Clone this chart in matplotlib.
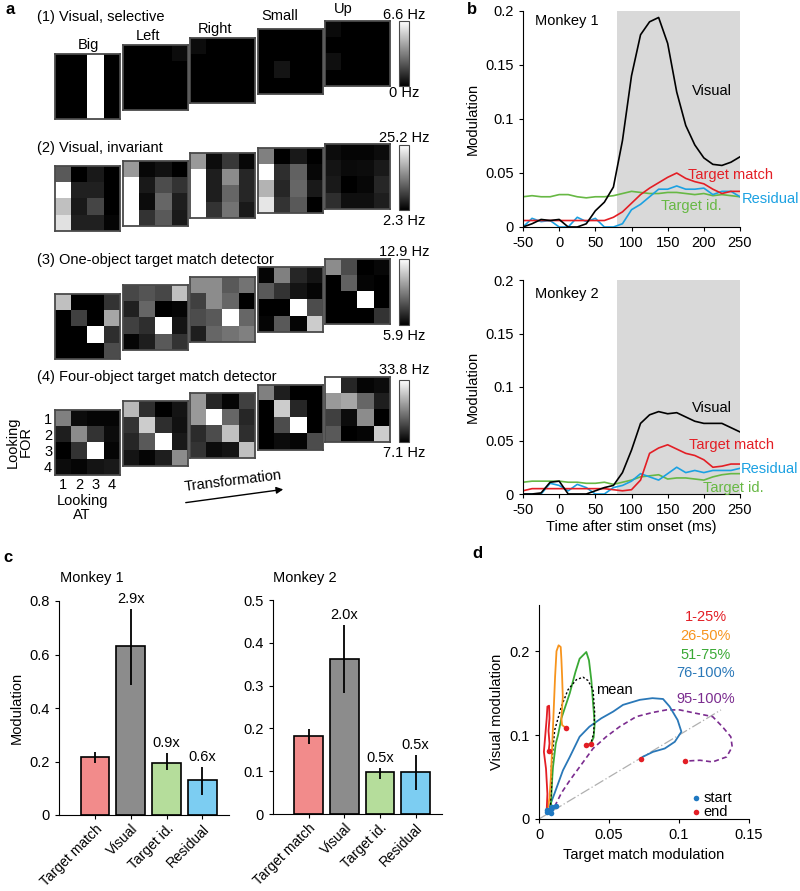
import numpy as np
import matplotlib
matplotlib.use("Agg")
import matplotlib.pyplot as plt
from matplotlib.colors import Normalize
from matplotlib.cm import ScalarMappable

plt.rcParams['font.family'] = ['Liberation Sans', 'DejaVu Sans']
plt.rcParams['font.size'] = 10
plt.rcParams['axes.unicode_minus'] = False

# --- Panel a : matrices (normalised grey level, rows = looking FOR, cols = looking AT) ---
titres_lignes = ["(1) Visual, selective", "(2) Visual, invariant",
                 "(3) One-object target match detector", "(4) Four-object target match detector"]
transfos = ["Big", "Left", "Right", "Small", "Up"]
echelles_hz = [("6.6 Hz", "0 Hz"), ("25.2 Hz", "2.3 Hz"), ("12.9 Hz", "5.9 Hz"), ("33.8 Hz", "7.1 Hz")]

mat_selectif = [
    [[0, 0, 1, 0], [0, 0, 1, 0], [0, 0, 1, 0], [0, 0, 1, 0]],
    [[0, 0, 0, 0.05], [0, 0, 0, 0], [0, 0, 0, 0], [0, 0, 0, 0]],
    [[0.05, 0, 0, 0], [0, 0, 0, 0], [0, 0, 0, 0], [0, 0, 0, 0]],
    [[0, 0, 0, 0], [0, 0, 0, 0], [0, 0.08, 0, 0], [0, 0, 0, 0]],
    [[0.04, 0, 0, 0], [0, 0, 0, 0], [0.06, 0, 0, 0], [0, 0, 0, 0]],
]
mat_invariant = [
    [[0.35, 0.0, 0.1, 0.0], [1.0, 0.13, 0.13, 0.0], [0.75, 0.1, 0.27, 0.0], [0.88, 0.13, 0.13, 0.02]],
    [[0.6, 0.03, 0.07, 0.0], [1.0, 0.1, 0.3, 0.2], [1.0, 0.05, 0.4, 0.12], [1.0, 0.2, 0.35, 0.1]],
    [[0.6, 0.05, 0.22, 0.03], [1.0, 0.12, 0.55, 0.15], [1.0, 0.12, 0.4, 0.15], [1.0, 0.2, 0.45, 0.1]],
    [[0.5, 0.0, 0.1, 0.0], [1.0, 0.18, 0.38, 0.03], [0.7, 0.15, 0.4, 0.1], [0.9, 0.2, 0.35, 0.0]],
    [[0.05, 0.02, 0.02, 0.05], [0.08, 0.04, 0.05, 0.1], [0.1, 0.0, 0.03, 0.15], [0.18, 0.06, 0.06, 0.12]],
]
mat_un_objet = [
    [[0.75, 0, 0, 0.2], [0, 0.25, 0, 0.65], [0, 0, 1, 0.18], [0, 0, 0, 0.3]],
    [[0.28, 0.33, 0.28, 0.75], [0.13, 0.4, 0.0, 0.02], [0.25, 0.18, 1.0, 0.08], [0.02, 0.12, 0.35, 0.2]],
    [[0.55, 0.55, 0.35, 0.45], [0.25, 0.55, 0.4, 0.0], [0.3, 0.35, 1.0, 0.4], [0.12, 0.4, 0.45, 0.5]],
    [[0.02, 0.5, 0.15, 0.08], [0.35, 0.2, 0.08, 0.02], [0.0, 0.0, 1.0, 0.3], [0.02, 0.35, 0.02, 0.8]],
    [[0.55, 0.3, 0.0, 0.03], [0.0, 0.38, 0.02, 0.0], [0.0, 0.0, 1.0, 0.0], [0.0, 0.0, 0.0, 0.2]],
]
mat_quatre_objets = [
    [[0.5, 0.05, 0.02, 0.02], [0.12, 0.55, 0.2, 0.05], [0.0, 0.2, 1.0, 0.02], [0.05, 0.02, 0.08, 0.1]],
    [[0.72, 0.18, 0.0, 0.08], [0.2, 0.8, 0.18, 0.07], [0.15, 0.35, 1.0, 0.1], [0.08, 0.02, 0.12, 0.55]],
    [[0.6, 0.15, 0.02, 0.25], [0.6, 1.0, 0.4, 0.15], [0.17, 0.3, 0.75, 0.18], [0.2, 0.05, 0.08, 0.75]],
    [[0.5, 0.12, 0.0, 0.0], [0.0, 0.8, 0.15, 0.0], [0.0, 0.3, 1.0, 0.0], [0.0, 0.05, 0.02, 0.3]],
    [[1.0, 0.15, 0.02, 0.05], [0.6, 0.65, 0.4, 0.12], [0.25, 0.05, 0.55, 0.0], [0.35, 0.0, 0.02, 0.8]],
]
toutes_matrices = [mat_selectif, mat_invariant, mat_un_objet, mat_quatre_objets]

# --- Panel b : modulation time courses ---
temps = [-50, -37.5, -25, -12.5, 0, 12.5, 25, 37.5, 50, 62.5, 75, 87.5, 100, 112.5, 125,
         137.5, 150, 162.5, 175, 187.5, 200, 212.5, 225, 237.5, 250]
m1_visual = [0, 0.003, 0.007, 0.006, 0.007, 0.0, 0.0, 0.003, 0.015, 0.023, 0.037, 0.08, 0.14,
             0.178, 0.19, 0.194, 0.17, 0.125, 0.094, 0.076, 0.064, 0.058, 0.057, 0.06, 0.065]
m1_target = [0.006, 0.006, 0.006, 0.006, 0.006, 0.006, 0.006, 0.006, 0.006, 0.006, 0.009, 0.014,
             0.022, 0.03, 0.036, 0.041, 0.046, 0.05, 0.045, 0.042, 0.04, 0.035, 0.031, 0.033, 0.033]
m1_resid = [0, 0.008, 0.005, 0.006, 0.0, 0.0, 0.009, 0.005, 0.008, 0.0, 0.0, 0.003, 0.016,
            0.021, 0.028, 0.035, 0.035, 0.038, 0.035, 0.035, 0.036, 0.03, 0.033, 0.033, 0.028]
m1_id = [0.028, 0.029, 0.028, 0.028, 0.03, 0.03, 0.028, 0.027, 0.028, 0.028, 0.029, 0.031, 0.033,
         0.032, 0.031, 0.031, 0.032, 0.032, 0.031, 0.03, 0.031, 0.029, 0.03, 0.029, 0.028]
m2_visual = [0, 0, 0.001, 0.011, 0.012, 0.0, 0.0, 0.0, 0.003, 0.006, 0.008, 0.02, 0.041, 0.066,
             0.074, 0.077, 0.075, 0.076, 0.072, 0.068, 0.066, 0.066, 0.066, 0.062, 0.058]
m2_target = [0.003, 0.005, 0.005, 0.005, 0.005, 0.005, 0.005, 0.005, 0.005, 0.005, 0.004, 0.003,
             0.004, 0.013, 0.038, 0.043, 0.046, 0.042, 0.038, 0.036, 0.032, 0.025, 0.026, 0.028, 0.028]
m2_resid = [0, 0, 0.0, 0.01, 0.008, 0.003, 0.009, 0.006, 0.0, 0.0, 0.006, 0.008, 0.012, 0.019,
            0.016, 0.013, 0.019, 0.025, 0.02, 0.022, 0.02, 0.022, 0.022, 0.022, 0.024]
m2_id = [0.011, 0.012, 0.012, 0.012, 0.012, 0.011, 0.011, 0.01, 0.01, 0.011, 0.009, 0.011, 0.013,
         0.016, 0.017, 0.018, 0.014, 0.015, 0.015, 0.014, 0.013, 0.016, 0.018, 0.019, 0.019]

# --- Panel c : bars ---
categories = ["Target match", "Visual", "Target id.", "Residual"]
m1_barres = [0.215, 0.631, 0.195, 0.131]
m1_err_bas = [0.195, 0.485, 0.168, 0.075]
m1_err_haut = [0.234, 0.771, 0.233, 0.18]
m1_ratios = ["", "2.9x", "0.9x", "0.6x"]
m2_barres = [0.183, 0.362, 0.097, 0.098]
m2_err_bas = [0.164, 0.282, 0.082, 0.055]
m2_err_haut = [0.199, 0.442, 0.107, 0.138]
m2_ratios = ["", "2.0x", "0.5x", "0.5x"]

# --- Panel d : trajectories (target match, visual) ---
q1_x = [0.0055, 0.006, 0.005, 0.0035, 0.0045, 0.0055, 0.006, 0.0072, 0.0075, 0.0068, 0.0075, 0.0069]
q1_y = [0.011, 0.03, 0.06, 0.08, 0.1, 0.12, 0.134, 0.135, 0.12, 0.105, 0.09, 0.081]
q2_x = [0.006, 0.0075, 0.0085, 0.0095, 0.0105, 0.0115, 0.0125, 0.014, 0.0155, 0.016, 0.0165,
        0.017, 0.016, 0.0165, 0.0195]
q2_y = [0.01, 0.025, 0.05, 0.09, 0.13, 0.17, 0.2, 0.207, 0.205, 0.19, 0.17, 0.145, 0.12, 0.112, 0.108]
q3_x = [0.0085, 0.0088, 0.0095, 0.01, 0.012, 0.0136, 0.016, 0.018, 0.022, 0.026, 0.029, 0.0338,
        0.0357, 0.0374, 0.0386, 0.0398, 0.039, 0.037, 0.0338]
q3_y = [0.012, 0.027, 0.05, 0.062, 0.09, 0.1, 0.12, 0.13, 0.15, 0.175, 0.191, 0.199, 0.189, 0.165,
        0.138, 0.114, 0.097, 0.09, 0.088]
q4_x = [0.0076, 0.0112, 0.0171, 0.022, 0.029, 0.036, 0.0445, 0.053, 0.06, 0.072, 0.081, 0.0886,
        0.0933, 0.099, 0.1017, 0.097, 0.0898, 0.0814, 0.074, 0.073]
q4_y = [0.015, 0.031, 0.058, 0.074, 0.098, 0.11, 0.12, 0.128, 0.136, 0.142, 0.144, 0.143, 0.134,
        0.118, 0.104, 0.092, 0.084, 0.08, 0.074, 0.071]
top_x = [0.0112, 0.016, 0.022, 0.029, 0.0386, 0.048, 0.0576, 0.0695, 0.0814, 0.091, 0.1005, 0.112,
         0.124, 0.131, 0.137, 0.138, 0.134, 0.124, 0.115, 0.1045]
top_y = [0.015, 0.031, 0.046, 0.062, 0.084, 0.098, 0.11, 0.122, 0.127, 0.13, 0.13, 0.126, 0.122,
         0.11, 0.098, 0.086, 0.074, 0.068, 0.07, 0.069]
moy_x = [0.008, 0.009, 0.0088, 0.0112, 0.016, 0.0207, 0.0267, 0.0314, 0.035, 0.0386, 0.0398, 0.039, 0.0369]
moy_y = [0.012, 0.04, 0.062, 0.106, 0.134, 0.154, 0.166, 0.169, 0.165, 0.154, 0.126, 0.102, 0.089]
debut_x = [0.0055, 0.006, 0.007, 0.0085, 0.0085, 0.0118, 0.009]
debut_y = [0.011, 0.008, 0.01, 0.007, 0.012, 0.016, 0.014]
fin_x = [0.0069, 0.0195, 0.0338, 0.0369, 0.073, 0.1045]
fin_y = [0.081, 0.108, 0.088, 0.089, 0.071, 0.069]
diag = [0, 0.13]

W, H = 800, 891
fig = plt.figure(figsize=(W / 100, H / 100), dpi=100)


def px_axes(x0, y0, w, h):
    return fig.add_axes([x0 / W, 1 - (y0 + h) / H, w / W, h / H])


def ft(x, y, s, **kw):
    kw.setdefault("ha", "center")
    kw.setdefault("va", "center")
    return fig.text(x / W, 1 - y / H, s, **kw)


def style_axes(ax):
    ax.spines["top"].set_visible(False)
    ax.spines["right"].set_visible(False)
    ax.tick_params(direction="out", length=3, width=0.8)


# ================= Panel a =================
x_mat = [55, 123, 190, 258, 325]
hauts = [[54, 45, 38, 29, 21], [166, 161, 153, 148, 144],
         [294, 285, 277, 267, 259], [410, 401, 393, 385, 377]]
cbar_y = [(21, 86), (145, 210), (259, 325), (380, 442)]
titre_y = [17, 148, 260, 377]
hz_y = [(15, 93), (138, 221), (252, 336), (370, 453)]

for r in range(4):
    for k in range(5):
        ax = px_axes(x_mat[k], hauts[r][k], 65, 65)
        ax.imshow(np.array(toutes_matrices[r][k]), cmap="gray", vmin=0, vmax=1,
                  interpolation="nearest", aspect="auto")
        ax.set_xticks([])
        ax.set_yticks([])
        for sp in ax.spines.values():
            sp.set_color("#4a4a4a")
            sp.set_linewidth(1.3)
        if r == 3 and k == 0:
            ax.set_xticks(range(4), ["1", "2", "3", "4"])
            ax.set_yticks(range(4), ["1", "2", "3", "4"])
            ax.tick_params(length=0, pad=2, labelsize=10.5)
    cax = px_axes(399, cbar_y[r][0], 10, cbar_y[r][1] - cbar_y[r][0])
    cb = fig.colorbar(ScalarMappable(norm=Normalize(0, 1), cmap="gray"), cax=cax)
    cb.set_ticks([])
    cb.outline.set_edgecolor("#4a4a4a")
    cb.outline.set_linewidth(0.8)
    ft(37, titre_y[r], titres_lignes[r], ha="left", fontsize=10.5)
    ft(404, hz_y[r][0], echelles_hz[r][0], fontsize=10.5)
    ft(404, hz_y[r][1], echelles_hz[r][1], fontsize=10.5)

for nom, (x, y) in zip(transfos, [(88, 45), (148, 36), (215, 29), (280, 16), (343, 9)]):
    ft(x, y, nom, fontsize=10.5)

ft(19, 442, "Looking\nFOR", rotation=90, fontsize=10.5, linespacing=0.95)
ft(82, 508, "Looking\nAT", fontsize=10.5, linespacing=0.95)
ft(233, 481, "Transformation", rotation=7, fontsize=10.5)
fig.patches.append(matplotlib.patches.FancyArrowPatch(
    (183 / W, 1 - 503 / H), (286 / W, 1 - 489 / H), transform=fig.transFigure,
    arrowstyle="-|>", mutation_scale=10, color="black", lw=1))
ft(10, 10, "a", fontweight="bold", fontsize=12)

# ================= Panel b =================
couleurs_b = {"visual": "black", "target": "#e31e25", "resid": "#1ba1e2", "id": "#67b844"}
series_b = [
    (m1_visual, m1_target, m1_resid, m1_id, "Monkey 1",
     [(211, 0.126), (237, 0.048), (252, 0.026), (183, 0.019)]),
    (m2_visual, m2_target, m2_resid, m2_id, "Monkey 2",
     [(211, 0.08), (238, 0.046), (251, 0.023), (241, 0.006)]),
]
for i, (vis, tm, rs, tid, nom, pos) in enumerate(series_b):
    ax = px_axes(523, [11, 280][i], 217, [216, 214][i])
    style_axes(ax)
    ax.axvspan(80, 250, color="#d9d9d9", lw=0, zorder=0)
    ax.plot(temps, tid, color=couleurs_b["id"], lw=1.2)
    ax.plot(temps, rs, color=couleurs_b["resid"], lw=1.2)
    ax.plot(temps, tm, color=couleurs_b["target"], lw=1.2)
    ax.plot(temps, vis, color=couleurs_b["visual"], lw=1.2)
    ax.set_xlim(-50, 250)
    ax.set_ylim(0, 0.2)
    ax.set_xticks([-50, 0, 50, 100, 150, 200, 250])
    ax.set_yticks([0, 0.05, 0.1, 0.15, 0.2], ["0", "0.05", "0.1", "0.15", "0.2"])
    ax.tick_params(labelsize=10.5)
    ax.set_ylabel("Modulation", fontsize=10.5, labelpad=4)
    ax.text(-34, [0.191, 0.187][i], nom, fontsize=10.5, va="center")
    ax.text(pos[0][0], pos[0][1], "Visual", color="black", fontsize=10.5, ha="center", va="center")
    ax.text(pos[1][0], pos[1][1], "Target match", color=couleurs_b["target"], fontsize=10.5,
            ha="center", va="center", clip_on=False)
    ax.text(pos[2][0], pos[2][1], "Residual", color=couleurs_b["resid"], fontsize=10.5,
            ha="left", va="center", clip_on=False)
    ax.text(pos[3][0], pos[3][1], "Target id.", color=couleurs_b["id"], fontsize=10.5,
            ha="center", va="center", clip_on=False)
    if i == 1:
        ax.set_xlabel("Time after stim onset (ms)", fontsize=10.5, labelpad=2)
ft(472, 10, "b", fontweight="bold", fontsize=12)

# ================= Panel c =================
couleurs_c = ["#f28b8b", "#8c8c8c", "#b5dd9b", "#7ccdf2"]
jeux_c = [
    (m1_barres, m1_err_bas, m1_err_haut, m1_ratios, "Monkey 1", 59, 601, 0.8,
     [0, 0.2, 0.4, 0.6, 0.8], ["0", "0.2", "0.4", "0.6", "0.8"], 92),
    (m2_barres, m2_err_bas, m2_err_haut, m2_ratios, "Monkey 2", 273, 600, 0.5,
     [0, 0.1, 0.2, 0.3, 0.4, 0.5], ["0", "0.1", "0.2", "0.3", "0.4", "0.5"], 305),
]
for j, (val, eb, eh, rat, nom, x0, y0, ymax, yt, ytl, xt) in enumerate(jeux_c):
    ax = px_axes(x0, y0, 170 if j == 0 else 169, 214)
    style_axes(ax)
    pos = np.arange(len(categories))
    ax.bar(pos, val, width=0.8, color=couleurs_c, edgecolor="black", lw=1.2, zorder=2)
    ax.vlines(pos, eb, eh, color="black", lw=1.3, zorder=3)
    for p, h, t in zip(pos, eh, rat):
        if t:
            ax.text(p, h + ymax * 0.014, t, ha="center", va="bottom", fontsize=10.5)
    ax.set_xlim(-1.0, 3.74)
    ax.set_ylim(0, ymax)
    ax.set_yticks(yt, ytl)
    ax.set_xticks(pos)
    ax.tick_params(labelsize=10.5)
    ax.tick_params(axis="x", pad=2)
    ax.set_xticklabels(categories, rotation=45, ha="right", rotation_mode="anchor", fontsize=10)
    if j == 0:
        ax.set_ylabel("Modulation", fontsize=10.5, labelpad=4)
    ft(xt, 578, nom, fontsize=10.5)
ft(8, 557, "c", fontweight="bold", fontsize=12)

# ================= Panel d =================
ax = px_axes(539, 605, 210, 214)
style_axes(ax)
ax.plot(diag, diag, color="#b0b0b0", lw=0.9, ls=(0, (8, 2, 1, 2)), zorder=1)
ax.plot(top_x, top_y, color="#7b2c8f", lw=1.2, ls=(0, (3, 2)))
ax.plot(q4_x, q4_y, color="#2a78b8", lw=1.3)
ax.plot(q3_x, q3_y, color="#3aa935", lw=1.3)
ax.plot(moy_x, moy_y, color="black", lw=1.0, ls=(0, (1.5, 1.5)))
ax.plot(q2_x, q2_y, color="#f7941d", lw=1.3)
ax.plot(q1_x, q1_y, color="#e31e25", lw=1.3)
ax.scatter(debut_x, debut_y, s=16, color="#1f78c1", zorder=5, lw=0)
ax.scatter(fin_x, fin_y, s=16, color="#e31e25", zorder=5, lw=0)
ax.scatter([0.112], [0.0246], s=16, color="#1f78c1", lw=0, clip_on=False)
ax.scatter([0.112], [0.008], s=16, color="#e31e25", lw=0, clip_on=False)
ax.text(0.1176, 0.0246, "start", va="center", fontsize=10.5)
ax.text(0.1176, 0.008, "end", va="center", fontsize=10.5)
for txt, yy, c in [("1-25%", 0.241, "#e31e25"), ("26-50%", 0.218, "#f7941d"),
                   ("51-75%", 0.196, "#3aa935"), ("76-100%", 0.174, "#2a78b8"),
                   ("95-100%", 0.143, "#7b2c8f")]:
    ax.text(0.119, yy, txt, color=c, ha="center", va="center", fontsize=10.5)
ax.text(0.054, 0.154, "mean", ha="center", va="center", fontsize=10.5)
ax.set_xlim(0, 0.15)
ax.set_ylim(0, 0.255)
ax.set_xticks([0, 0.05, 0.1, 0.15], ["0", "0.05", "0.1", "0.15"])
ax.set_yticks([0, 0.1, 0.2], ["0", "0.1", "0.2"])
ax.tick_params(labelsize=10.5)
ax.set_xlabel("Target match modulation", fontsize=10.5, labelpad=4)
ax.set_ylabel("Visual modulation", fontsize=10.5, labelpad=4)
ft(477, 554, "d", fontweight="bold", fontsize=12)

fig.savefig("out.png", dpi=100)
